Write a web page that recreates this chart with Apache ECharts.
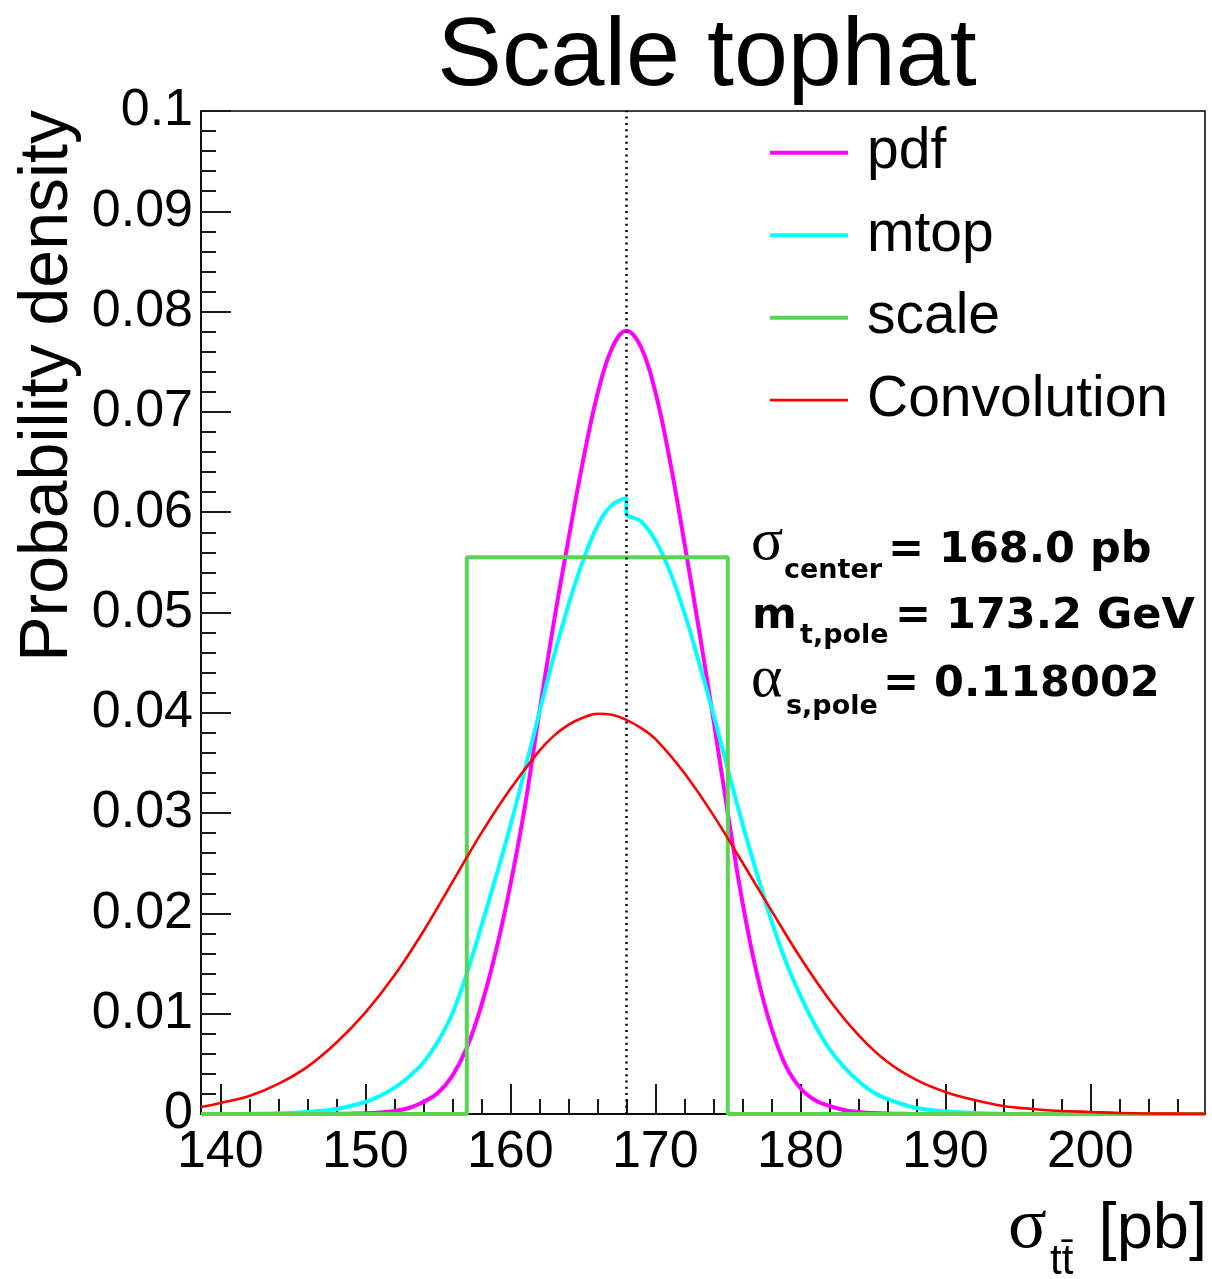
<!DOCTYPE html>
<html>
<head>
<meta charset="utf-8">
<script src="https://cdn.jsdelivr.net/npm/echarts@6/dist/echarts.min.js"></script>
<style>
  html, body { margin: 0; padding: 0; background: #fff; }
  #chart { width: 1212px; height: 1279px; }
</style>
</head>
<body>
<div id="chart"></div>
<script>
// Cross-section range shown on the horizontal axis [pb]
const sigmaMin = 138.67;
const sigmaMax = 207.91;
const sigmaCenter = 168.0;

// Tick positions on the cross-section axis
const xMajorTicks = [140, 150, 160, 170, 180, 190, 200];
const xMinorTicks = [142, 144, 146, 148, 152, 154, 156, 158, 162, 164, 166, 168, 172, 174, 176, 178,
                     182, 184, 186, 188, 192, 194, 196, 198, 202, 204, 206];

// PDF uncertainty density
const pdfX = [138.67, 142, 145, 147, 148, 149, 150, 151, 152, 153, 154, 155, 156, 157, 158, 159, 160,
              161, 162, 163, 164, 165, 166, 167, 168, 169, 170, 171, 172, 173, 174, 175, 176, 177,
              178, 179, 180, 181, 182, 183, 184, 185, 186, 188, 190, 195, 200, 207.91];
const pdfY = [0, 0, 0, 0.00001, 0.00002, 0.00004, 0.00008, 0.00016, 0.0003, 0.0006, 0.0012, 0.0021,
              0.0038, 0.0066, 0.0108, 0.0162, 0.0228, 0.0306, 0.0400, 0.0490, 0.0572, 0.0650, 0.0717,
              0.0763, 0.0781, 0.0765, 0.0720, 0.0652, 0.0570, 0.0484, 0.0394, 0.0300, 0.0212, 0.0140,
              0.0086, 0.0048, 0.0026, 0.0014, 0.0008, 0.0004, 0.0002, 0.0001, 0.00005, 0.00001, 0, 0, 0, 0];

// Top-mass uncertainty density (asymmetric, steps at the central value)
const mtopX = [138.67, 142, 144, 146, 148, 150, 151, 152, 153, 154, 155, 156, 157, 158, 159, 160, 161,
               162, 163, 164, 165, 166, 167, 168, 168, 169, 170, 171, 172, 173, 174, 175, 176, 177,
               178, 179, 180, 181, 182, 183, 184, 185, 186, 187, 188, 189, 190, 192, 194, 197, 200, 207.91];
const mtopY = [0, 0.00002, 0.00007, 0.0002, 0.0005, 0.0012, 0.0018, 0.0026, 0.0037, 0.0051, 0.0072,
               0.0100, 0.0140, 0.0187, 0.0236, 0.0287, 0.0343, 0.0400, 0.0456, 0.0507, 0.0551, 0.0586,
               0.0607, 0.0614, 0.0599, 0.0591, 0.0572, 0.0541, 0.0500, 0.0451, 0.0399, 0.0344, 0.0290,
               0.0240, 0.0193, 0.0152, 0.0118, 0.0089, 0.0065, 0.0047, 0.0033, 0.0022, 0.0015, 0.0010,
               0.0006, 0.0004, 0.00025, 0.0001, 0.00003, 0, 0, 0];

// Scale uncertainty: flat top-hat
const scaleX = [138.67, 157, 157, 175, 175, 207.91];
const scaleY = [0, 0, 0.0555, 0.0555, 0, 0];

// Convolution of the three densities
const convX = [138.67, 140, 142, 144, 146, 148, 150, 152, 154, 156, 158, 160, 162, 163, 164, 165, 166,
               167, 168, 169, 170, 172, 174, 176, 178, 180, 182, 184, 186, 188, 190, 192, 194, 196, 198,
               200, 202, 204, 207.91];
const convY = [0.0007, 0.0011, 0.0018, 0.0030, 0.0047, 0.0071, 0.0101, 0.0138, 0.0182, 0.0231, 0.0280,
               0.0324, 0.0362, 0.0377, 0.0388, 0.0395, 0.0399, 0.0398, 0.0393, 0.0385, 0.0374, 0.0340,
               0.0298, 0.0251, 0.0203, 0.0156, 0.0114, 0.0079, 0.0052, 0.0034, 0.0022, 0.0014, 0.0008,
               0.0005, 0.0003, 0.0002, 0.0001, 0.00005, 0.00002];

const seriesNames = ['pdf', 'mtop', 'scale', 'Convolution'];

const zip = (xs, ys) => xs.map((x, i) => [x, ys[i]]);

const SANS = '"Liberation Sans", Arial, Helvetica, sans-serif';
const BOLD = '"DejaVu Sans", "Liberation Sans", sans-serif';
const SERIF = '"Liberation Serif", "DejaVu Serif", serif';
const tickStyle = { color: '#1a1a1a', width: 2 };

const chart = echarts.init(document.getElementById('chart'));

function txt(text, x, y, font, align) {
  return {
    type: 'text', x: x, y: y, silent: true,
    style: { text: text, font: font, fill: '#000', align: align || 'left', verticalAlign: 'middle' }
  };
}

chart.setOption({
  animation: false,
  backgroundColor: '#fff',
  grid: {
    left: 201, top: 111, width: 1004, height: 1003,
    show: true, borderColor: '#000', borderWidth: 1.5, backgroundColor: 'transparent'
  },
  xAxis: [
    {
      type: 'value', min: sigmaMin, max: sigmaMax, position: 'bottom',
      axisLine: { show: true, onZero: false, lineStyle: { color: '#000', width: 1.5 } },
      axisTick: { show: true, inside: true, length: 30, customValues: xMajorTicks, lineStyle: tickStyle },
      axisLabel: {
        show: true, customValues: xMajorTicks, margin: 13,
        fontSize: 52, fontFamily: SANS, color: '#000',
        formatter: v => String(Math.round(v))
      },
      splitLine: { show: false }
    },
    {
      type: 'value', min: sigmaMin, max: sigmaMax, position: 'bottom',
      axisLine: { show: false },
      axisTick: { show: true, inside: true, length: 15, customValues: xMinorTicks, lineStyle: tickStyle },
      axisLabel: { show: false },
      splitLine: { show: false }
    }
  ],
  yAxis: {
    type: 'value', min: 0, max: 0.1, interval: 0.01,
    axisLine: { show: true, onZero: false, lineStyle: { color: '#000', width: 1.5 } },
    axisTick: { show: true, inside: true, length: 30, lineStyle: tickStyle },
    minorTick: { show: true, splitNumber: 5, length: 15, lineStyle: tickStyle },
    axisLabel: {
      margin: 8, fontSize: 52, fontFamily: SANS, color: '#000',
      formatter: v => String(+v.toFixed(2))
    },
    splitLine: { show: false }
  },
  legend: {
    orient: 'vertical', left: 770, top: 122.7, padding: 0,
    itemWidth: 78, itemHeight: 4, itemGap: 22.5,
    selectedMode: false,
    textStyle: { fontSize: 57, fontFamily: SANS, color: '#000', lineHeight: 60, padding: [0, 0, 0, 14] },
    data: [
      { name: seriesNames[0], icon: 'rect' },
      { name: seriesNames[1], icon: 'rect' },
      { name: seriesNames[2], icon: 'rect' },
      { name: seriesNames[3], icon: 'path://M0,0H78V2.7H0Z' }
    ]
  },
  series: [
    {
      name: seriesNames[0], type: 'line', data: zip(pdfX, pdfY),
      symbol: 'none', smooth: 0.4, clip: false,
      color: '#ff00ff', lineStyle: { color: '#ff00ff', width: 4 }
    },
    {
      name: seriesNames[1], type: 'line', data: zip(mtopX, mtopY),
      symbol: 'none', smooth: 0.4, clip: false,
      color: '#00ffff', lineStyle: { color: '#00ffff', width: 4 }
    },
    {
      name: seriesNames[2], type: 'line', data: zip(scaleX, scaleY),
      symbol: 'none', clip: false,
      color: '#59d454', lineStyle: { color: '#59d454', width: 4 }
    },
    {
      name: seriesNames[3], type: 'line', data: zip(convX, convY),
      symbol: 'none', smooth: 0.4, clip: false,
      color: '#ff0000', lineStyle: { color: '#ff0000', width: 2.6 },
      markLine: {
        silent: true, symbol: ['none', 'none'], label: { show: false },
        lineStyle: { color: '#000', type: [2, 4.3], width: 2.5 },
        data: [{ xAxis: sigmaCenter }]
      }
    }
  ],
  graphic: [
    // chart title
    txt('Scale tophat', 707, 58, '97px ' + SANS, 'center'),
    // vertical axis title
    {
      type: 'text', x: 48, y: 110, rotation: Math.PI / 2, silent: true,
      style: { text: 'Probability density', font: '68px ' + SANS, fill: '#000', align: 'right', verticalAlign: 'middle' }
    },
    // horizontal axis title
    txt('σ', 1008, 1228, '72px ' + SERIF),
    txt('tt\u0304', 1050, 1262, '42px ' + SANS),
    txt('[pb]', 1207, 1230, '65px ' + SANS, 'right'),
    // input parameters
    txt('σ', 751, 543, '60px ' + SERIF),
    txt('center', 784, 571, 'bold 27px ' + BOLD),
    txt('= 168.0 pb', 888, 551, 'bold 43px ' + BOLD),
    txt('m', 752, 617, 'bold 43px ' + BOLD),
    txt('t,pole', 800, 636, 'bold 27px ' + BOLD),
    txt('= 173.2 GeV', 895, 617, 'bold 43px ' + BOLD),
    txt('α', 751, 680, '60px ' + SERIF),
    txt('s,pole', 786, 707, 'bold 27px ' + BOLD),
    txt('= 0.118002', 883, 685, 'bold 43px ' + BOLD)
  ]
});
</script>
</body>
</html>
